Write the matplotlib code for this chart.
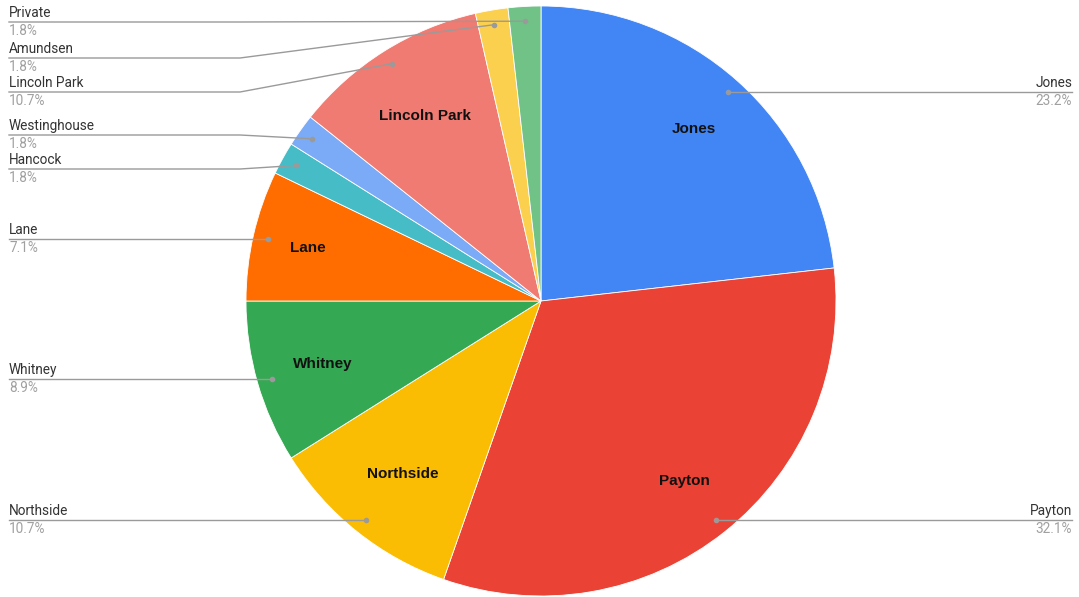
import numpy as np
import matplotlib
matplotlib.use("Agg")
import matplotlib.pyplot as plt

plt.rcParams['font.family'] = ['Roboto', 'DejaVu Sans']

# -----------------------------
# Data
# -----------------------------
schools = ["Jones", "Payton", "Northside", "Whitney", "Lane",
           "Hancock", "Westinghouse", "Lincoln Park", "Amundsen", "Private"]
counts = [13, 18, 6, 5, 4, 1, 1, 6, 1, 1]
colors = ["#4285F4", "#EA4335", "#FBBC04", "#34A853", "#FF6D01",
          "#46BDC6", "#7BAAF7", "#F07B72", "#FCD04F", "#71C287"]

# label line heights (pixels from top) for the stacked small slices on the left
left_stack = {"Private": 22, "Amundsen": 58, "Lincoln Park": 92,
              "Westinghouse": 135, "Hancock": 169}
# how far out the inner labels sit (fraction of radius)
inner_r = {"Lincoln Park": 0.74, "Lane": 0.81, "Whitney": 0.77, "Northside": 0.75}

W, H = 1079, 597
cx, cy_px, R = 541, 301, 295
cy = H - cy_px

fig = plt.figure(figsize=(W / 100, H / 100), dpi=100)
ax = fig.add_axes([0, 0, 1, 1])

wedges, _ = ax.pie(counts, colors=colors, startangle=90, counterclock=False,
                   radius=R, center=(cx, cy),
                   wedgeprops=dict(edgecolor="white", linewidth=0.6))

ax.set_xlim(0, W)
ax.set_ylim(0, H)
ax.set_aspect("equal")
ax.axis("off")

total = sum(counts)
line_col = "#9a9a9a"

for w, name, n in zip(wedges, schools, counts):
    mid = np.deg2rad((w.theta1 + w.theta2) / 2)
    pct = 100 * n / total

    # label inside big slices
    if pct > 5:
        r_in = inner_r.get(name, 0.78) * R
        ax.text(cx + r_in * np.cos(mid), cy + r_in * np.sin(mid), name,
                ha="center", va="center", fontsize=11, fontweight="bold",
                color="#111111", family=["Liberation Sans", "DejaVu Sans"])

    # leader line with dot
    dx = cx + 0.95 * R * np.cos(mid)
    dy = cy + 0.95 * R * np.sin(mid)
    ax.plot(dx, dy, "o", ms=3, color=line_col, zorder=5)

    if dx > cx:
        tx, ha = 1072, "right"
        ly = dy
        ax.plot([dx, tx], [dy, dy], color=line_col, lw=1, zorder=4)
    else:
        tx, ha = 9, "left"
        ly = H - left_stack[name] if name in left_stack else dy
        ax.plot([9, 240, dx], [ly, ly, dy], color=line_col, lw=1, zorder=4)
    ax.text(tx, ly + 9, name, ha=ha, va="center", fontsize=9.8, color="#333333")
    ax.text(tx, ly - 9, f"{pct:.1f}%", ha=ha, va="center", fontsize=9.8, color="#a0a0a0")

fig.savefig("out.png", dpi=100)
